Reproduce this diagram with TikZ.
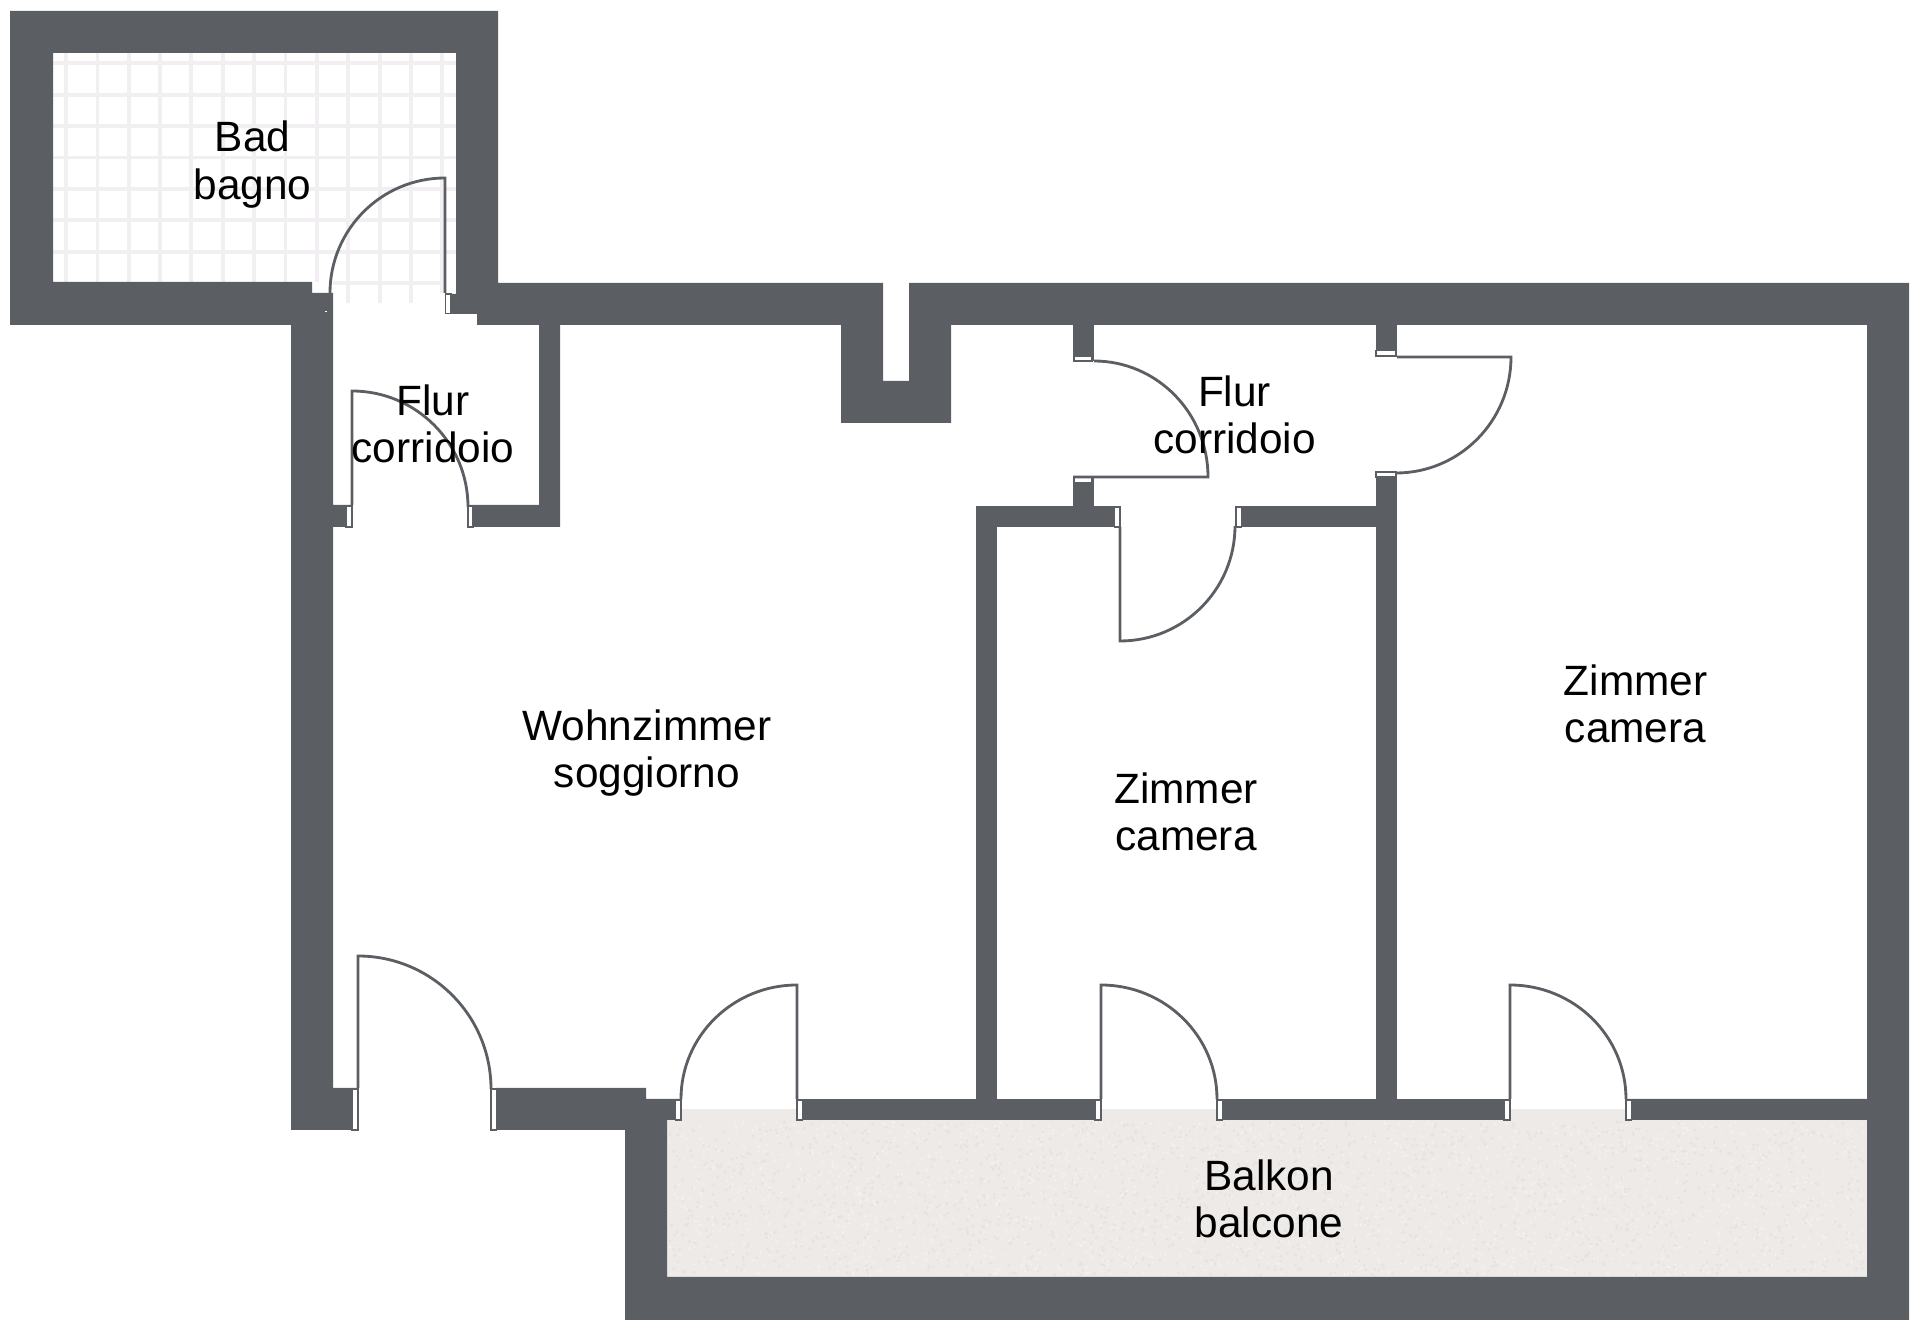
\documentclass[tikz,border=0pt]{standalone}
\usepackage{fontspec}
\setmainfont{Liberation Sans}
\definecolor{wallgrey}{HTML}{5B5E62}
\definecolor{balconysand}{HTML}{EEEAE8}
\definecolor{grainlight}{HTML}{F3F0EE}
\definecolor{graindark}{HTML}{E6E2E0}
\definecolor{tilegrey}{HTML}{F1EFF1}
\tikzset{
  wall/.style={fill=wallgrey, draw=none},
  jamb/.style={fill=white, draw=wallgrey, line width=0.4pt},
  leaf/.style={draw=wallgrey, line width=0.8pt},
  tile/.style={draw=tilegrey, line width=1pt},
  roomlabel/.style={align=center, inner sep=0pt, font=\fontsize{12.05}{13.4}\selectfont},
}
\begin{document}
\begin{tikzpicture}[x=0.01cm, y=-0.01cm]
\useasboundingbox (0,0) rectangle (1920,1331);
\fill[balconysand] (667,1120) rectangle (1867,1277);
\fill[balconysand] (681,1109) rectangle (797,1120);
\fill[balconysand] (1101,1109) rectangle (1217,1120);
\fill[balconysand] (1510,1109) rectangle (1626,1120);
% grain of the balcony floor
\pgfmathsetseed{7}
\foreach \g in {1,...,1800}{
  \pgfmathsetmacro{\gx}{669+rnd*1196}
  \pgfmathsetmacro{\gy}{1122+rnd*153}
  \fill[graindark] (\gx,\gy) circle[radius=1.5];
  \pgfmathsetmacro{\gx}{669+rnd*1196}
  \pgfmathsetmacro{\gy}{1122+rnd*153}
  \fill[grainlight] (\gx,\gy) circle[radius=1.5];
}
\foreach \tx in {66,97.5,129,160,191,223,254,285.5,317}
  \draw[tile] (\tx,53) -- (\tx,282);
\foreach \tx in {348,380,411}
  \draw[tile] (\tx,53) -- (\tx,303);
\draw[tile] (442,53) -- (442,293);
\foreach \ty in {63,95,126,157.5,189,220,252}
  \draw[tile] (53,\ty) -- (456,\ty);
\draw[tile] (333,283) -- (446,283);
\path[wall] (10,11) -- (498,11) -- (498,283) -- (883,283) -- (883,381) -- (909,381)
  -- (909,283) -- (1909,283) -- (1909,1320) -- (625,1320) -- (625,1130) -- (496,1130)
  -- (496,1088) -- (646,1088) -- (646,1099) -- (681,1099) -- (681,1120) -- (667,1120)
  -- (667,1277) -- (1867,1277) -- (1867,1120) -- (1626,1120) -- (1626,1099) -- (1867,1099)
  -- (1867,325) -- (951,325) -- (951,423) -- (841,423) -- (841,325) -- (560,325)
  -- (560,527) -- (468,527) -- (468,505) -- (539,505) -- (539,325) -- (477,325)
  -- (477,314) -- (445,314) -- (445,294) -- (456,294) -- (456,53) -- (53,53)
  -- (53,282) -- (312,282) -- (312,293) -- (333,293) -- (333,505) -- (352,505)
  -- (352,527) -- (333,527) -- (333,1088) -- (358,1088) -- (358,1130) -- (291,1130)
  -- (291,325) -- (10,325) -- cycle;
\path[wall] (797,1099) rectangle (1101,1120);
\path[wall] (1217,1099) rectangle (1510,1120);
\path[wall] (976,506) rectangle (997,1099);
\path[wall] (976,506) rectangle (1120,527);
\path[wall] (1236,506) rectangle (1397,527);
\path[wall] (1376,472) rectangle (1397,1099);
\path[wall] (1073,325) rectangle (1094,361);
\path[wall] (1073,477) rectangle (1094,506);
\path[wall] (1376,325) rectangle (1397,356);
\fill[white] (325,311.5) rectangle (327,312.5);
% door jambs
\draw[jamb] (445.5,294) rectangle (451,313.5);
\draw[jamb] (346,506) rectangle (352,527);
\draw[jamb] (468,506) rectangle (473,527);
\draw[jamb] (1074,356) rectangle (1092,361);
\draw[jamb] (1074,477) rectangle (1092,483);
\draw[jamb] (1376,350.5) rectangle (1396,356);
\draw[jamb] (1376,472) rectangle (1396,477);
\draw[jamb] (1114.5,507) rectangle (1120,527);
\draw[jamb] (1236,507) rectangle (1241.5,527);
\draw[jamb] (352,1089) rectangle (358,1130);
\draw[jamb] (491,1089) rectangle (496.5,1130);
\draw[jamb] (675.5,1100) rectangle (681,1120);
\draw[jamb] (797,1100) rectangle (802.5,1120);
\draw[jamb] (1095,1100) rectangle (1101,1120);
\draw[jamb] (1217,1100) rectangle (1222.5,1120);
\draw[jamb] (1504,1100) rectangle (1510,1120);
\draw[jamb] (1626,1100) rectangle (1631.5,1120);
% door leaves
\draw[leaf] (330,293) arc[start angle=180, end angle=270, radius=115] -- (445,293);
\draw[leaf] (352,505) -- (352,391) arc[start angle=270, end angle=360, radius=116];
\draw[leaf] (1094,361) arc[start angle=270, end angle=360, x radius=114, y radius=116] -- (1073,477);
\draw[leaf] (1397,357) -- (1511,357) arc[start angle=0, end angle=90, x radius=115, y radius=116];
\draw[leaf] (1120,527) -- (1120,641) arc[start angle=90, end angle=0, radius=115];
\draw[leaf] (358,1088) -- (358,956) arc[start angle=270, end angle=360, radius=133];
\draw[leaf] (797,1099) -- (797,985) arc[start angle=270, end angle=180, x radius=116, y radius=114];
\draw[leaf] (1101,1099) -- (1101,985) arc[start angle=270, end angle=360, x radius=116, y radius=114];
\draw[leaf] (1510,1099) -- (1510,985) arc[start angle=270, end angle=360, x radius=116, y radius=114];
% room names
\node[roomlabel] (bad) at (252.5,164.5) {Bad\\bagno};
\node[roomlabel] (flurwest) at (433,424) {Flur\\corridoio};
\node[roomlabel] (flurost) at (1234.5,414.5) {Flur\\corridoio};
\node[roomlabel] (wohnzimmer) at (647,753) {Wohnzimmer\\soggiorno};
\node[roomlabel] (zimmermitte) at (1186,812) {Zimmer\\camera};
\node[roomlabel] (zimmerost) at (1635.5,704) {Zimmer\\camera};
\node[roomlabel] (balkon) at (1269,1199) {Balkon\\balcone};
\end{tikzpicture}
\end{document}
